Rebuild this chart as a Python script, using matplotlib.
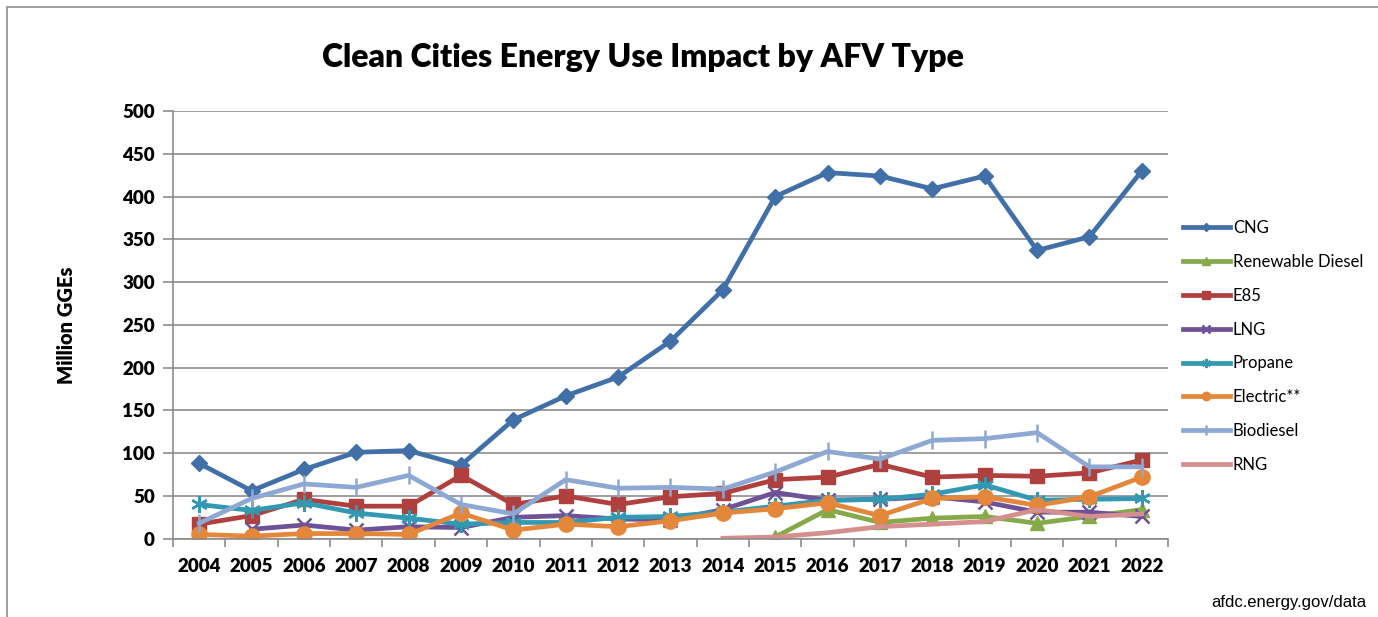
import numpy as np
import matplotlib.pyplot as plt
from matplotlib.patches import Rectangle

years = [str(y) for y in range(2004, 2023)]

# values (million GGEs); None = no data that year
cng = [88, 56, 81, 101, 103, 86, 139, 167, 189, 231, 291, 400, 428, 424, 409, 424, 337, 353, 430]
renewable_diesel = [None] * 11 + [2, 34, 19, 24, 26, 18, 26, 34]
e85 = [17, 27, 46, 38, 38, 74, 40, 50, 40, 49, 53, 69, 72, 87, 72, 74, 73, 77, 92]
lng = [None, 11, 16, 10, 14, 13, 25, 27, 23, 22, 34, 54, 45, 46, 49, 43, 31, 31, 26]
propane = [40, 33, 42, 30, 24, 17, 19, 19, 25, 26, 31, 38, 45, 46, 52, 63, 45, 46, 47]
electric = [5, 3, 6, 6, 5, 30, 10, 17, 14, 21, 30, 35, 42, 27, 47, 49, 39, 49, 72]
biodiesel = [18, 47, 64, 60, 74, 40, 29, 69, 59, 60, 58, 78, 102, 93, 115, 117, 124, 84, 84]
rng = [None] * 10 + [0.5, 2, 7, 14, 17, 20, 34, 26, 29]

series = [
    ('CNG', cng, '#4170A8', 'D', 8),
    ('Renewable Diesel', renewable_diesel, '#86A94A', '^', 10),
    ('E85', e85, '#B0403D', 's', 10),
    ('LNG', lng, '#6E5196', 'x', 10),
    ('Propane', propane, '#3399B3', (6, 2, 0), 12),
    ('Electric**', electric, '#E5873A', 'o', 11),
    ('Biodiesel', biodiesel, '#8EA8D4', '|', 13),
    ('RNG', rng, '#D48F8E', None, 0),
]

fig = plt.figure(figsize=(13.78, 6.17), dpi=100)
fig.patches.append(Rectangle((7 / 1378, -0.1), 1.1, 1 - 7 / 617 + 0.1, transform=fig.transFigure,
                             fill=False, edgecolor='#8c8c8c', linewidth=1.2))

ax = fig.add_axes([173 / 1378, 1 - 538.7 / 617, (1168 - 173) / 1378, (538.7 - 111) / 617])
x = np.arange(len(years))

for name, vals, color, marker, ms in series:
    y = np.array([np.nan if v is None else v for v in vals], dtype=float)
    ax.plot(x, y, color=color, linewidth=3.4, marker=marker, markersize=ms,
            markeredgewidth=1.8 if marker in ('x', '|', (6, 2, 0)) else 1,
            markeredgecolor=color, label=name, solid_joinstyle='round')

ax.set_xlim(-0.5, len(years) - 0.5)
ax.set_ylim(0, 500)
ax.set_yticks(range(0, 501, 50))
ax.yaxis.grid(True, color='#8c8c8c', linewidth=1.2)
ax.set_axisbelow(True)

ax.set_xticks(x)
ax.set_xticklabels(years)
ax.set_xticks(np.arange(-0.5, len(years), 1), minor=True)
ax.tick_params(axis='x', which='major', length=0, pad=14)
ax.tick_params(axis='x', which='minor', length=6, color='#8c8c8c', width=1.2)
ax.tick_params(axis='y', length=7, color='#8c8c8c', width=1.2, pad=6)
for lab in ax.get_xticklabels() + ax.get_yticklabels():
    lab.set_fontfamily('Lato')
    lab.set_fontweight('heavy')
    lab.set_fontsize(13.5)

for side in ('top', 'right'):
    ax.spines[side].set_visible(False)
for side in ('left', 'bottom'):
    ax.spines[side].set_color('#8c8c8c')
    ax.spines[side].set_linewidth(1.2)

ax.set_ylabel('Million GGEs', fontfamily='Lato', fontweight='heavy', fontsize=14.5, labelpad=33)

fig.text(643 / 1378, 1 - 57 / 617, 'Clean Cities Energy Use Impact by AFV Type',
         ha='center', va='center', fontfamily='Lato', fontweight='heavy', fontsize=23)

ax.legend(loc='upper left', bbox_to_anchor=(1.0, 0.78), frameon=False,
          prop={'family': 'Lato', 'size': 12}, handlelength=2.8, handletextpad=0.2,
          labelspacing=1.07, markerscale=0.55)

fig.text(1366 / 1378, 1 - 603 / 617, 'afdc.energy.gov/data', ha='right', va='center',
         fontfamily='Liberation Sans', fontsize=12)

fig.savefig('out.png', dpi=100)
